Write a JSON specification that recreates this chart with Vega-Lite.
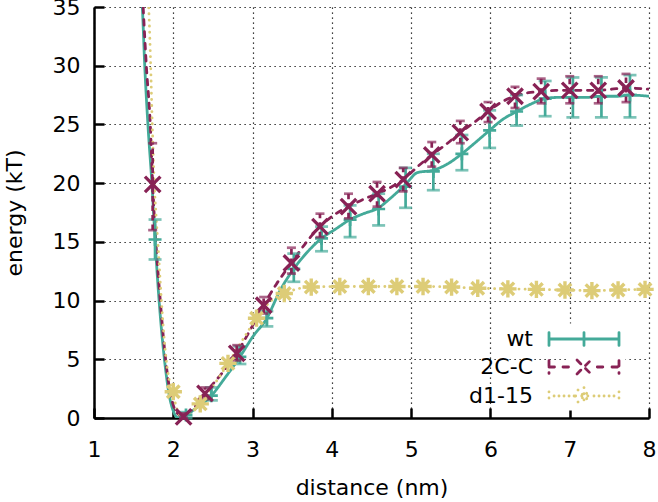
{
  "$schema": "https://vega.github.io/schema/vega-lite/v6.json",
  "width": 555,
  "height": 411,
  "autosize": {"type": "none"},
  "padding": {"left": 94, "top": 7, "right": 9, "bottom": 84},
  "background": "white",
  "config": {
    "view": {"stroke": null},
    "font": "DejaVu Sans",
    "axis": {
      "domainColor": "#000",
      "domainWidth": 2.5,
      "tickColor": "#000",
      "tickWidth": 2.5,
      "tickSize": -10,
      "labelFont": "DejaVu Sans",
      "labelFontSize": 22,
      "labelColor": "#000",
      "labelFlush": false,
      "labelOverlap": false,
      "titleFont": "DejaVu Sans",
      "titleFontSize": 22,
      "titleFontWeight": "normal",
      "titleColor": "#000",
      "grid": true,
      "gridColor": "#000",
      "gridDash": [1.2, 3.8],
      "gridWidth": 1.2,
      "gridOpacity": 1
    },
    "axisX": {"labelPadding": 31, "titlePadding": 17},
    "axisY": {"labelPadding": 24, "titlePadding": 26}
  },
  "datasets": {
    "lines": [
      {"series": "wt", "d": 1.595, "e": 37}, {"series": "wt", "d": 1.61, "e": 35}, {"series": "wt", "d": 1.64, "e": 30}, {"series": "wt", "d": 1.68, "e": 25}, {"series": "wt", "d": 1.73, "e": 20}, {"series": "wt", "d": 1.77, "e": 15.2}, {"series": "wt", "d": 1.81, "e": 11}, {"series": "wt", "d": 1.85, "e": 7.6}, {"series": "wt", "d": 1.9, "e": 4.3}, {"series": "wt", "d": 1.95, "e": 1.9}, {"series": "wt", "d": 2.0, "e": 0.6}, {"series": "wt", "d": 2.05, "e": 0.05}, {"series": "wt", "d": 2.1, "e": 0}, {"series": "wt", "d": 2.16, "e": 0.25}, {"series": "wt", "d": 2.3, "e": 0.9}, {"series": "wt", "d": 2.48, "e": 1.9}, {"series": "wt", "d": 2.65, "e": 3.4}, {"series": "wt", "d": 2.84, "e": 5.2}, {"series": "wt", "d": 3.0, "e": 6.9}, {"series": "wt", "d": 3.18, "e": 8.5}, {"series": "wt", "d": 3.35, "e": 10.9}, {"series": "wt", "d": 3.52, "e": 12.7}, {"series": "wt", "d": 3.7, "e": 14.2}, {"series": "wt", "d": 3.87, "e": 15.3}, {"series": "wt", "d": 4.05, "e": 16.1}, {"series": "wt", "d": 4.23, "e": 16.9}, {"series": "wt", "d": 4.4, "e": 17.4}, {"series": "wt", "d": 4.59, "e": 17.9}, {"series": "wt", "d": 4.72, "e": 18.6}, {"series": "wt", "d": 4.93, "e": 19.9}, {"series": "wt", "d": 5.08, "e": 20.9}, {"series": "wt", "d": 5.28, "e": 21.1}, {"series": "wt", "d": 5.45, "e": 21.6}, {"series": "wt", "d": 5.64, "e": 22.5}, {"series": "wt", "d": 5.8, "e": 23.4}, {"series": "wt", "d": 5.99, "e": 24.5}, {"series": "wt", "d": 6.15, "e": 25.4}, {"series": "wt", "d": 6.33, "e": 26.1}, {"series": "wt", "d": 6.5, "e": 26.7}, {"series": "wt", "d": 6.69, "e": 27.2}, {"series": "wt", "d": 6.85, "e": 27.3}, {"series": "wt", "d": 7.04, "e": 27.3}, {"series": "wt", "d": 7.2, "e": 27.3}, {"series": "wt", "d": 7.4, "e": 27.4}, {"series": "wt", "d": 7.6, "e": 27.4}, {"series": "wt", "d": 7.76, "e": 27.5}, {"series": "wt", "d": 8.0, "e": 27.4},
      {"series": "2C-C", "d": 1.605, "e": 37}, {"series": "2C-C", "d": 1.62, "e": 35}, {"series": "2C-C", "d": 1.66, "e": 30}, {"series": "2C-C", "d": 1.71, "e": 25}, {"series": "2C-C", "d": 1.74, "e": 19.9}, {"series": "2C-C", "d": 1.78, "e": 15}, {"series": "2C-C", "d": 1.83, "e": 10.5}, {"series": "2C-C", "d": 1.88, "e": 6.5}, {"series": "2C-C", "d": 1.93, "e": 3.5}, {"series": "2C-C", "d": 1.98, "e": 1.6}, {"series": "2C-C", "d": 2.04, "e": 0.5}, {"series": "2C-C", "d": 2.13, "e": 0.1}, {"series": "2C-C", "d": 2.25, "e": 0.8}, {"series": "2C-C", "d": 2.4, "e": 2.1}, {"series": "2C-C", "d": 2.6, "e": 3.7}, {"series": "2C-C", "d": 2.8, "e": 5.5}, {"series": "2C-C", "d": 2.97, "e": 7.5}, {"series": "2C-C", "d": 3.14, "e": 9.6}, {"series": "2C-C", "d": 3.3, "e": 11.4}, {"series": "2C-C", "d": 3.49, "e": 13.2}, {"series": "2C-C", "d": 3.67, "e": 14.9}, {"series": "2C-C", "d": 3.85, "e": 16.3}, {"series": "2C-C", "d": 4.03, "e": 17.3}, {"series": "2C-C", "d": 4.21, "e": 18.0}, {"series": "2C-C", "d": 4.39, "e": 18.6}, {"series": "2C-C", "d": 4.57, "e": 19.1}, {"series": "2C-C", "d": 4.73, "e": 19.6}, {"series": "2C-C", "d": 4.9, "e": 20.3}, {"series": "2C-C", "d": 5.08, "e": 21.4}, {"series": "2C-C", "d": 5.26, "e": 22.4}, {"series": "2C-C", "d": 5.44, "e": 23.3}, {"series": "2C-C", "d": 5.62, "e": 24.3}, {"series": "2C-C", "d": 5.8, "e": 25.2}, {"series": "2C-C", "d": 5.97, "e": 26.1}, {"series": "2C-C", "d": 6.14, "e": 26.9}, {"series": "2C-C", "d": 6.31, "e": 27.4}, {"series": "2C-C", "d": 6.48, "e": 27.7}, {"series": "2C-C", "d": 6.64, "e": 27.8}, {"series": "2C-C", "d": 6.82, "e": 27.9}, {"series": "2C-C", "d": 7.0, "e": 27.9}, {"series": "2C-C", "d": 7.18, "e": 27.9}, {"series": "2C-C", "d": 7.36, "e": 27.9}, {"series": "2C-C", "d": 7.53, "e": 28.0}, {"series": "2C-C", "d": 7.71, "e": 28.1}, {"series": "2C-C", "d": 8.0, "e": 28.0},
      {"series": "d1-15", "d": 1.675, "e": 37}, {"series": "d1-15", "d": 1.69, "e": 35}, {"series": "d1-15", "d": 1.715, "e": 30}, {"series": "d1-15", "d": 1.735, "e": 25}, {"series": "d1-15", "d": 1.76, "e": 20}, {"series": "d1-15", "d": 1.785, "e": 17}, {"series": "d1-15", "d": 1.81, "e": 14.5}, {"series": "d1-15", "d": 1.85, "e": 10}, {"series": "d1-15", "d": 1.91, "e": 5}, {"series": "d1-15", "d": 1.95, "e": 3.2}, {"series": "d1-15", "d": 1.99, "e": 2.24}, {"series": "d1-15", "d": 2.05, "e": 0.7}, {"series": "d1-15", "d": 2.12, "e": 0.1}, {"series": "d1-15", "d": 2.2, "e": 0.3}, {"series": "d1-15", "d": 2.34, "e": 1.2}, {"series": "d1-15", "d": 2.5, "e": 2.7}, {"series": "d1-15", "d": 2.69, "e": 4.65}, {"series": "d1-15", "d": 2.87, "e": 6.6}, {"series": "d1-15", "d": 3.05, "e": 8.5}, {"series": "d1-15", "d": 3.22, "e": 9.9}, {"series": "d1-15", "d": 3.4, "e": 10.6}, {"series": "d1-15", "d": 3.57, "e": 11.0}, {"series": "d1-15", "d": 3.74, "e": 11.15}, {"series": "d1-15", "d": 4.1, "e": 11.2}, {"series": "d1-15", "d": 4.46, "e": 11.2}, {"series": "d1-15", "d": 4.82, "e": 11.2}, {"series": "d1-15", "d": 5.15, "e": 11.2}, {"series": "d1-15", "d": 5.51, "e": 11.15}, {"series": "d1-15", "d": 5.84, "e": 11.05}, {"series": "d1-15", "d": 6.22, "e": 11.0}, {"series": "d1-15", "d": 6.58, "e": 10.95}, {"series": "d1-15", "d": 6.94, "e": 10.9}, {"series": "d1-15", "d": 7.28, "e": 10.85}, {"series": "d1-15", "d": 7.61, "e": 10.9}, {"series": "d1-15", "d": 7.95, "e": 10.95}, {"series": "d1-15", "d": 8.0, "e": 10.95}
    ],
    "marks": [
      {"series": "wt", "d": 1.77, "e": 15.2, "lo": 13.5, "hi": 16.9}, {"series": "wt", "d": 2.16, "e": 0.25, "lo": 0, "hi": 0.5}, {"series": "wt", "d": 2.48, "e": 1.9, "lo": 1.5, "hi": 2.6}, {"series": "wt", "d": 2.84, "e": 5.2, "lo": 4.6, "hi": 6.1}, {"series": "wt", "d": 3.18, "e": 8.5, "lo": 7.8, "hi": 9.1}, {"series": "wt", "d": 3.52, "e": 12.7, "lo": 11.6, "hi": 14.0}, {"series": "wt", "d": 3.87, "e": 15.3, "lo": 14.2, "hi": 16.3}, {"series": "wt", "d": 4.23, "e": 16.9, "lo": 15.4, "hi": 18.1}, {"series": "wt", "d": 4.59, "e": 17.8, "lo": 16.4, "hi": 19.1}, {"series": "wt", "d": 4.93, "e": 19.7, "lo": 17.9, "hi": 21.3}, {"series": "wt", "d": 5.28, "e": 21.0, "lo": 19.4, "hi": 22.5}, {"series": "wt", "d": 5.64, "e": 22.5, "lo": 21.1, "hi": 24.1}, {"series": "wt", "d": 5.99, "e": 24.5, "lo": 23.0, "hi": 26.2}, {"series": "wt", "d": 6.33, "e": 26.1, "lo": 24.9, "hi": 27.5}, {"series": "wt", "d": 6.69, "e": 27.2, "lo": 25.7, "hi": 28.7}, {"series": "wt", "d": 7.04, "e": 27.3, "lo": 25.6, "hi": 29.0}, {"series": "wt", "d": 7.4, "e": 27.4, "lo": 25.6, "hi": 29.0}, {"series": "wt", "d": 7.76, "e": 27.5, "lo": 25.6, "hi": 29.2},
      {"series": "2C-C", "d": 1.74, "e": 19.9, "lo": 16.0, "hi": 23.4}, {"series": "2C-C", "d": 2.13, "e": 0.1, "lo": 0, "hi": 0.4}, {"series": "2C-C", "d": 2.4, "e": 2.1, "lo": 1.6, "hi": 2.6}, {"series": "2C-C", "d": 2.8, "e": 5.5, "lo": 4.9, "hi": 6.2}, {"series": "2C-C", "d": 3.14, "e": 9.6, "lo": 8.9, "hi": 10.3}, {"series": "2C-C", "d": 3.49, "e": 13.2, "lo": 12.3, "hi": 14.5}, {"series": "2C-C", "d": 3.85, "e": 16.3, "lo": 15.4, "hi": 17.4}, {"series": "2C-C", "d": 4.21, "e": 18.0, "lo": 17.0, "hi": 19.1}, {"series": "2C-C", "d": 4.57, "e": 19.1, "lo": 18.0, "hi": 20.1}, {"series": "2C-C", "d": 4.9, "e": 20.3, "lo": 19.3, "hi": 21.3}, {"series": "2C-C", "d": 5.26, "e": 22.4, "lo": 21.4, "hi": 23.5}, {"series": "2C-C", "d": 5.62, "e": 24.3, "lo": 23.4, "hi": 25.3}, {"series": "2C-C", "d": 5.97, "e": 26.1, "lo": 25.2, "hi": 26.9}, {"series": "2C-C", "d": 6.31, "e": 27.4, "lo": 26.4, "hi": 28.2}, {"series": "2C-C", "d": 6.64, "e": 27.8, "lo": 26.8, "hi": 28.9}, {"series": "2C-C", "d": 7.0, "e": 27.9, "lo": 26.8, "hi": 29.1}, {"series": "2C-C", "d": 7.36, "e": 27.9, "lo": 26.8, "hi": 29.1}, {"series": "2C-C", "d": 7.71, "e": 28.1, "lo": 26.9, "hi": 29.3},
      {"series": "d1-15", "d": 2.0, "e": 2.24}, {"series": "d1-15", "d": 2.34, "e": 1.2}, {"series": "d1-15", "d": 2.69, "e": 4.65}, {"series": "d1-15", "d": 3.05, "e": 8.5}, {"series": "d1-15", "d": 3.4, "e": 10.6}, {"series": "d1-15", "d": 3.74, "e": 11.15}, {"series": "d1-15", "d": 4.1, "e": 11.2}, {"series": "d1-15", "d": 4.46, "e": 11.2}, {"series": "d1-15", "d": 4.82, "e": 11.2}, {"series": "d1-15", "d": 5.15, "e": 11.2}, {"series": "d1-15", "d": 5.51, "e": 11.15}, {"series": "d1-15", "d": 5.84, "e": 11.05}, {"series": "d1-15", "d": 6.22, "e": 11.0}, {"series": "d1-15", "d": 6.58, "e": 10.95}, {"series": "d1-15", "d": 6.94, "e": 10.9}, {"series": "d1-15", "d": 7.28, "e": 10.85}, {"series": "d1-15", "d": 7.61, "e": 10.9}, {"series": "d1-15", "d": 7.95, "e": 10.95}
    ]
  },
  "layer": [
    {
      "data": {"name": "lines"},
      "mark": {"type": "line", "interpolate": "monotone", "strokeWidth": 2.8, "clip": true, "strokeCap": "round"},
      "encoding": {
        "x": {"field": "d", "type": "quantitative", "title": "distance (nm)", "scale": {"domain": [1, 8], "nice": false, "zero": false}, "axis": {"values": [1, 2, 3, 4, 5, 6, 7, 8], "format": "d"}},
        "y": {"field": "e", "type": "quantitative", "title": "energy (kT)", "scale": {"domain": [0, 35], "nice": false}, "axis": {"values": [0, 5, 10, 15, 20, 25, 30, 35], "format": "d"}},
        "color": {
          "field": "series", "type": "nominal",
          "scale": {"domain": ["wt", "2C-C", "d1-15"], "range": ["#44AA99", "#882255", "#DDCC77"]},
          "legend": {
            "orient": "none", "legendX": 474.5, "legendY": 316.5, "title": null,
            "padding": 0, "rowPadding": 0, "symbolSize": 784, "symbolStrokeWidth": 2.5,
            "fillColor": "white",
            "labelFontSize": 22, "labelFont": "DejaVu Sans", "labelColor": "#000",
            "labelAlign": "right", "labelOffset": -66.5, "symbolOffset": 0,
            "encode": {
              "symbols": {
                "update": {
                  "shape": {"signal": "datum.value === 'wt' ? 'M-2.5,0H2.5M-2.5,-0.46V0.46M0,-0.46V0.46M2.5,-0.46V0.46' : (datum.value === '2C-C' ? 'M-2.5,-0.46V0.46M-2.5,0H-2M-1.5,0H-0.95M0.95,0H1.5M2,0H2.5M2.5,-0.46V0.46M-0.5,-0.5L0.5,0.5M-0.5,0.5L0.5,-0.5' : 'M-2.5,-0.3V0.3M-2.14,0h0.02M-1.79,0h0.02M-1.43,0h0.02M-1.07,0h0.02M-0.71,0h0.02M0.71,0h0.02M1.07,0h0.02M1.43,0h0.02M1.79,0h0.02M2.14,0h0.02M2.5,-0.3V0.3M-0.6,0H0.6M0,-0.6V0.6M-0.43,-0.43L0.43,0.43M-0.43,0.43L0.43,-0.43')"},
                  "stroke": {"scale": "color", "field": "value"},
                  "fill": {"value": "transparent"},
                  "strokeWidth": {"value": 2.8},
                  "opacity": {"value": 1},
                  "strokeDash": {"value": []},
                  "strokeCap": {"value": "round"}
                }
              }
            }
          }
        },
        "strokeDash": {
          "field": "series", "type": "nominal",
          "scale": {"domain": ["wt", "2C-C", "d1-15"], "range": [[1, 0], [5.5, 6.5], [0.1, 6]]},
          "legend": null
        }
      }
    },
    {
      "data": {"name": "marks"},
      "transform": [{"filter": "datum.series === 'wt'"}],
      "mark": {"type": "rule", "color": "#44AA99", "strokeWidth": 2.7},
      "encoding": {
        "x": {"field": "d", "type": "quantitative", "title": "distance (nm)"},
        "y": {"field": "lo", "type": "quantitative", "title": "energy (kT)"},
        "y2": {"field": "hi"}
      }
    },
    {
      "data": {"name": "marks"},
      "transform": [{"filter": "datum.series === 'wt'"}],
      "mark": {"type": "tick", "orient": "horizontal", "color": "#44AA99", "size": 13, "thickness": 2.7},
      "encoding": {
        "x": {"field": "d", "type": "quantitative", "title": "distance (nm)"},
        "y": {"field": "lo", "type": "quantitative", "title": "energy (kT)"}
      }
    },
    {
      "data": {"name": "marks"},
      "transform": [{"filter": "datum.series === 'wt'"}],
      "mark": {"type": "tick", "orient": "horizontal", "color": "#44AA99", "size": 13, "thickness": 2.7},
      "encoding": {
        "x": {"field": "d", "type": "quantitative", "title": "distance (nm)"},
        "y": {"field": "hi", "type": "quantitative", "title": "energy (kT)"}
      }
    },
    {
      "data": {"name": "marks"},
      "transform": [{"filter": "datum.series === 'wt'"}],
      "mark": {"type": "point", "shape": "M-1,0H1M0,-1V1", "size": 169, "filled": false, "stroke": "#44AA99", "strokeWidth": 2.7, "opacity": 1},
      "encoding": {
        "x": {"field": "d", "type": "quantitative", "title": "distance (nm)"},
        "y": {"field": "e", "type": "quantitative", "title": "energy (kT)"}
      }
    },
    {
      "data": {"name": "marks"},
      "transform": [{"filter": "datum.series === '2C-C'"}],
      "mark": {"type": "rule", "color": "#882255", "strokeWidth": 2.7, "strokeDash": [5.5, 4]},
      "encoding": {
        "x": {"field": "d", "type": "quantitative", "title": "distance (nm)"},
        "y": {"field": "lo", "type": "quantitative", "title": "energy (kT)"},
        "y2": {"field": "hi"}
      }
    },
    {
      "data": {"name": "marks"},
      "transform": [{"filter": "datum.series === '2C-C'"}],
      "mark": {"type": "tick", "orient": "horizontal", "color": "#882255", "size": 9, "thickness": 2.7},
      "encoding": {
        "x": {"field": "d", "type": "quantitative", "title": "distance (nm)"},
        "y": {"field": "lo", "type": "quantitative", "title": "energy (kT)"}
      }
    },
    {
      "data": {"name": "marks"},
      "transform": [{"filter": "datum.series === '2C-C'"}],
      "mark": {"type": "tick", "orient": "horizontal", "color": "#882255", "size": 9, "thickness": 2.7},
      "encoding": {
        "x": {"field": "d", "type": "quantitative", "title": "distance (nm)"},
        "y": {"field": "hi", "type": "quantitative", "title": "energy (kT)"}
      }
    },
    {
      "data": {"name": "marks"},
      "transform": [{"filter": "datum.series === '2C-C'"}],
      "mark": {"type": "point", "shape": "M-1,-1L1,1M-1,1L1,-1", "size": 240, "filled": false, "stroke": "#882255", "strokeWidth": 3.3, "opacity": 1},
      "encoding": {
        "x": {"field": "d", "type": "quantitative", "title": "distance (nm)"},
        "y": {"field": "e", "type": "quantitative", "title": "energy (kT)"}
      }
    },
    {
      "data": {"name": "marks"},
      "transform": [{"filter": "datum.series === 'd1-15'"}],
      "mark": {"type": "point", "shape": "M-1,0H1M0,-1V1M-0.72,-0.72L0.72,0.72M-0.72,0.72L0.72,-0.72", "size": 300, "filled": false, "stroke": "#DDCC77", "strokeWidth": 3.4, "opacity": 1},
      "encoding": {
        "x": {"field": "d", "type": "quantitative", "title": "distance (nm)"},
        "y": {"field": "e", "type": "quantitative", "title": "energy (kT)"}
      }
    }
  ]
}
